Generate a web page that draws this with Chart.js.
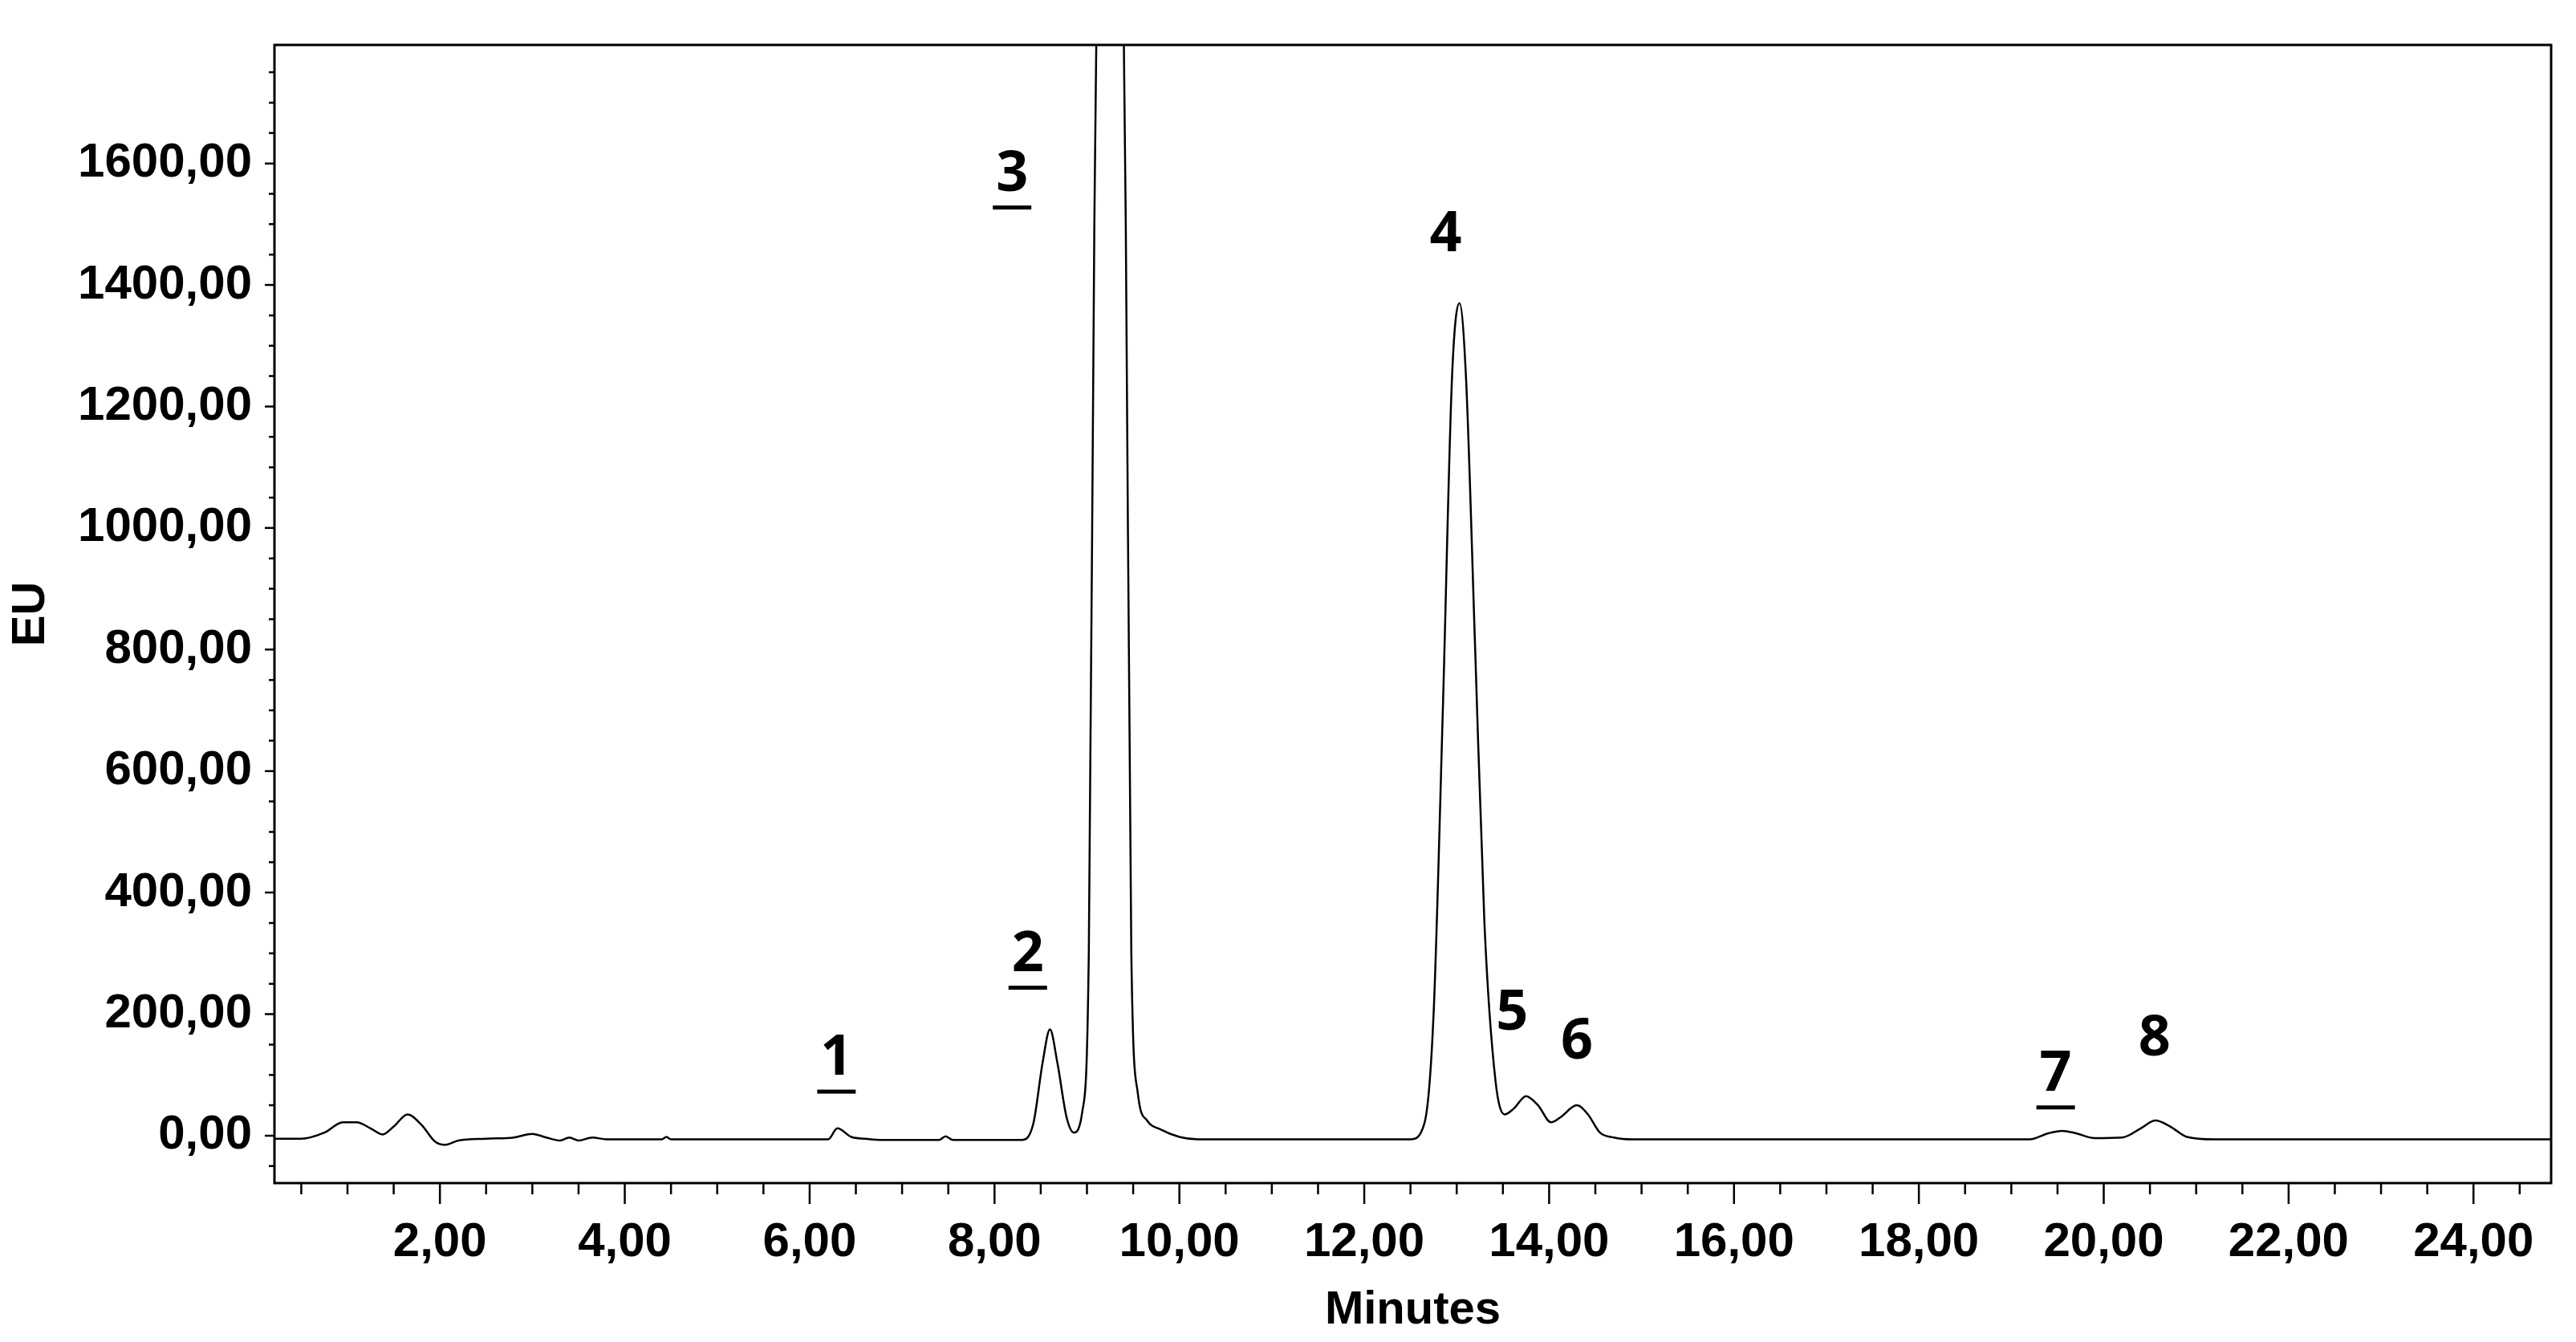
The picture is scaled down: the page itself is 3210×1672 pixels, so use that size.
<!DOCTYPE html>
<html>
<head>
<meta charset="utf-8">
<script src="https://cdn.jsdelivr.net/npm/chart.js@4"></script>
<style>
  body { margin: 0; background: #fff; }
  canvas { display: block; }
</style>
</head>
<body>
<canvas id="chromatogram" width="3210" height="1672"></canvas>
<script>
// retention time (min) and detector signal (EU)
const timeMin = [0.21, 0.5, 0.75, 0.95, 1.1, 1.25, 1.38, 1.5, 1.65, 1.8, 1.95, 2.05, 2.2, 2.5, 2.8, 3.0, 3.15, 3.3, 3.4, 3.5, 3.65, 3.8, 4.4, 4.45, 4.5,
    6.2, 6.3, 6.45, 6.6, 6.8, 7.4, 7.47, 7.55, 8.3, 8.42, 8.52, 8.6, 8.68, 8.78, 8.86, 8.95, 9.02, 9.08, 9.15, 9.25, 9.35, 9.42, 9.48, 9.55, 9.65, 9.8,
    10.0, 10.2, 12.5, 12.65, 12.75, 12.85, 12.95, 13.03, 13.1, 13.2, 13.3, 13.42, 13.52, 13.62, 13.75, 13.88, 14.02, 14.12, 14.3, 14.42, 14.55, 14.7, 14.9,
    19.2, 19.4, 19.55, 19.7, 19.9, 20.2, 20.4, 20.56, 20.72, 20.9, 21.2, 24.84];
const signalEU = [-5, -5, 5, 22, 22, 12, 2, 15, 35, 18, -10, -15, -8, -5, -3, 3, -3, -8, -3, -8, -3, -6, -6, -2, -6,
    -6, 12, -2, -5, -7, -7, -1, -7, -7, 20, 120, 175, 120, 30, 5, 40, 300, 1500, 2500, 3000, 2500, 1500, 300, 70, 25, 10,
    -2, -6, -6, 20, 200, 700, 1250, 1370, 1250, 800, 350, 90, 35, 45, 65, 50, 22, 30, 50, 35, 5, -3, -6,
    -6, 4, 8, 4, -4, -3, 12, 25, 15, -2, -6, -6];

// peak numbers and where they sit (data coordinates)
const peakLabels = ["1", "2", "3", "4", "5", "6", "7", "8"];
const peakLabelX = [6.29, 8.36, 8.19, 12.88, 13.6, 14.3, 19.48, 20.55];
const peakLabelY = [126, 297, 1581, 1482, 200, 153, 100, 158];
const peakUnderlined = [true, true, true, false, false, false, true, false];

const xMajorTicks = [2, 4, 6, 8, 10, 12, 14, 16, 18, 20, 22, 24];
const yMajorTicks = [0, 200, 400, 600, 800, 1000, 1200, 1400, 1600];

function fmt(v) {
    return v.toFixed(2).replace(".", ",");
}

const frameAndTicks = {
    id: "frameAndTicks",
    afterDraw(chart) {
        const ctx = chart.ctx;
        const a = chart.chartArea;
        const xs = chart.scales.x, ys = chart.scales.y;
        ctx.save();
        ctx.strokeStyle = "#000";
        ctx.lineWidth = 3;
        ctx.strokeRect(a.left, a.top, a.right - a.left, a.bottom - a.top);
        ctx.lineWidth = 2.5;
        ctx.beginPath();
        for (let v = 0.5; v <= 24.8; v += 0.5) {
            const px = xs.getPixelForValue(v);
            const len = Math.abs(v % 2) < 1e-6 ? 26 : 14;
            ctx.moveTo(px, a.bottom);
            ctx.lineTo(px, a.bottom + len);
        }
        for (let v = -50; v <= 1790; v += 50) {
            const py = ys.getPixelForValue(v);
            const len = v % 200 === 0 ? 12 : 7;
            ctx.moveTo(a.left, py);
            ctx.lineTo(a.left - len, py);
        }
        ctx.stroke();

        // peak labels
        ctx.fillStyle = "#000";
        ctx.font = "bold 70px 'Open Sans'";
        ctx.textAlign = "center";
        ctx.textBaseline = "middle";
        peakLabels.forEach((t, i) => {
            const px = xs.getPixelForValue(peakLabelX[i]);
            const py = ys.getPixelForValue(peakLabelY[i]);
            ctx.fillText(t, px, py);
            if (peakUnderlined[i]) {
                ctx.fillRect(px - 24, py + 38, 48, 5);
            }
        });
        ctx.restore();
    }
};

new Chart(document.getElementById("chromatogram"), {
    type: "line",
    data: {
        datasets: [{
            data: timeMin.map((t, i) => ({ x: t, y: signalEU[i] })),
            borderColor: "#000",
            borderWidth: 2.5,
            pointRadius: 0,
            cubicInterpolationMode: "monotone",
            fill: false
        }]
    },
    options: {
        responsive: false,
        animation: false,
        devicePixelRatio: 1,
        layout: { padding: { top: 31, right: 31, left: 0, bottom: 0 } },
        plugins: { legend: { display: false }, tooltip: { enabled: false } },
        scales: {
            x: {
                type: "linear",
                min: 0.21,
                max: 24.84,
                grid: { display: false },
                border: { display: false },
                afterBuildTicks: s => { s.ticks = xMajorTicks.map(v => ({ value: v })); },
                afterFit: s => { s.height = 198; },
                ticks: {
                    color: "#000",
                    font: { family: "'Liberation Sans'", weight: "bold", size: 60 },
                    padding: 30,
                    maxRotation: 0,
                    callback: v => fmt(v)
                },
                title: {
                    display: true,
                    text: "Minutes",
                    color: "#000",
                    font: { family: "'Liberation Sans'", weight: "bold", size: 58 },
                    padding: { top: -6 }
                }
            },
            y: {
                min: -78,
                max: 1795,
                grid: { display: false },
                border: { display: false },
                afterBuildTicks: s => { s.ticks = yMajorTicks.map(v => ({ value: v })); },
                afterFit: s => { s.width = 342; },
                ticks: {
                    color: "#000",
                    font: { family: "'Liberation Sans'", weight: "bold", size: 60 },
                    padding: 20,
                    callback: v => fmt(v)
                },
                title: {
                    display: true,
                    text: "EU",
                    color: "#000",
                    font: { family: "'Liberation Sans'", weight: "bold", size: 58 },
                    padding: { bottom: 0 }
                }
            }
        }
    },
    plugins: [frameAndTicks]
});
</script>
</body>
</html>
